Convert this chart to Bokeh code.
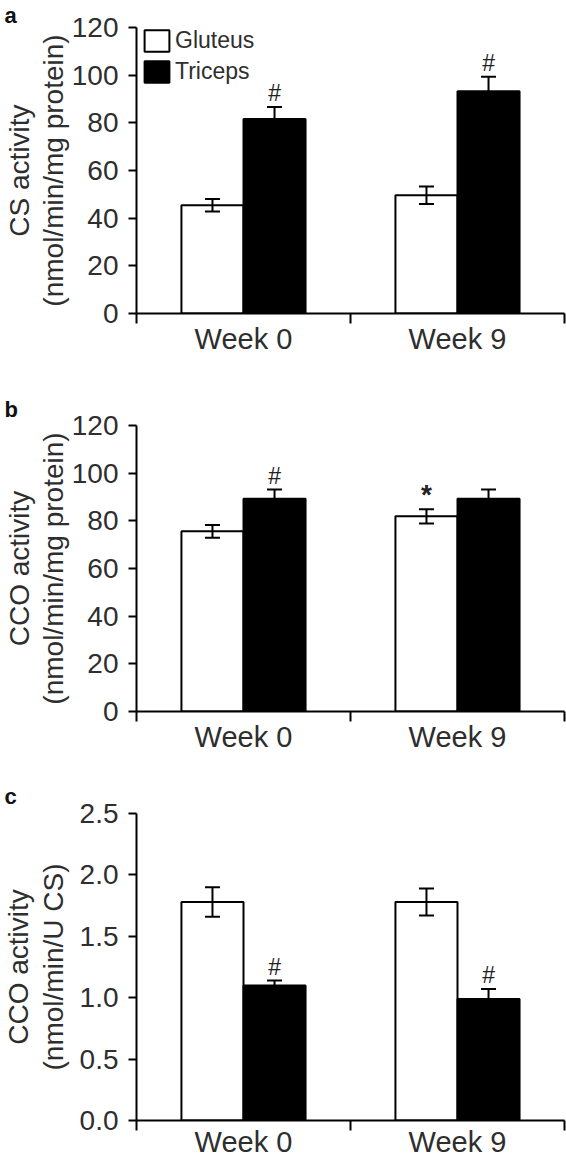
from bokeh.plotting import figure
from bokeh.models import (ColumnDataSource, Range1d, FixedTicker, Whisker, TeeHead,
                          Title, Legend, LegendItem, NumeralTickFormatter)
from bokeh.layouts import column
from bokeh.core.properties import value
from bokeh.embed import file_html
from bokeh.resources import INLINE

# ---------------- data ----------------
categories = ["Week 0", "Week 9"]
series_names = ["Gluteus", "Triceps"]

# panel a: CS activity (nmol/min/mg protein)
cs_gluteus = [45.4, 49.6]
cs_gluteus_err = [2.6, 3.7]
cs_triceps = [81.6, 93.3]
cs_triceps_err = [5.0, 6.0]
cs_gluteus_marks = ["", ""]
cs_triceps_marks = ["#", "#"]

# panel b: CCO activity (nmol/min/mg protein)
cco_gluteus = [75.6, 81.9]
cco_gluteus_err = [2.7, 3.0]
cco_triceps = [89.3, 89.3]
cco_triceps_err = [3.8, 3.8]
cco_gluteus_marks = ["", "*"]
cco_triceps_marks = ["#", ""]

# panel c: CCO activity (nmol/min/U CS)
ratio_gluteus = [1.78, 1.78]
ratio_gluteus_err = [0.12, 0.11]
ratio_triceps = [1.10, 0.99]
ratio_triceps_err = [0.04, 0.08]
ratio_gluteus_marks = ["", ""]
ratio_triceps_marks = ["#", "#"]

ticks_ab = [0, 20, 40, 60, 80, 100, 120]
ticks_c = [0.0, 0.5, 1.0, 1.5, 2.0, 2.5]

FONT = "Liberation Sans"
TXT = "#2e2e2e"
BAR_W = 0.29
OFF = 0.145

MARK_STYLE = {"#": ("23px", "normal", -14), "*": ("28px", "bold", -15), "": ("23px", "normal", 0)}


def make_panel(letter, height, top, frame_h, ticks, fmt, title1, title2,
               glut, glut_err, tri, tri_err, glut_marks, tri_marks,
               letter_standoff, label_standoff, legend=False, x_standoff=-1):
    bottom = height - top - frame_h
    p = figure(width=566, height=height, x_range=Range1d(0, len(categories)),
               y_range=Range1d(ticks[0], ticks[-1]),
               output_backend="svg", toolbar_location=None,
               min_border_left=136, min_border_right=2,
               min_border_top=top, min_border_bottom=bottom)
    p.outline_line_color = None
    p.grid.visible = False
    p.background_fill_color = "white"

    centers = [i + 0.5 for i in range(len(categories))]

    def src_for(vals, errs, marks, off):
        return ColumnDataSource(dict(
            x=[c + off for c in centers], top=vals,
            upper=[v + e for v, e in zip(vals, errs)],
            lower=[v - e for v, e in zip(vals, errs)],
            mark=marks,
            fsize=[MARK_STYLE[m][0] for m in marks],
            fstyle=[MARK_STYLE[m][1] for m in marks],
            yoff=[MARK_STYLE[m][2] for m in marks]))

    src_g = src_for(glut, glut_err, glut_marks, -OFF)
    src_t = src_for(tri, tri_err, tri_marks, OFF)

    rg = p.vbar(x="x", top="top", bottom=0, width=BAR_W, source=src_g,
                fill_color="white", line_color="black", line_width=2)
    rt = p.vbar(x="x", top="top", bottom=0, width=BAR_W, source=src_t,
                fill_color="black", line_color="black", line_width=2)

    for src in (src_g, src_t):
        w = Whisker(source=src, base="x", upper="upper", lower="lower",
                    line_color="black", line_width=2, level="overlay",
                    upper_head=TeeHead(size=15, line_width=2, line_color="black"),
                    lower_head=TeeHead(size=15, line_width=2, line_color="black"))
        p.add_layout(w)
        p.text(x="x", y="upper", text="mark", source=src,
               text_font=value(FONT), text_font_size="fsize", text_font_style="fstyle",
               text_color="#222222", text_align="center",
               text_baseline="middle", y_offset="yoff")

    # x axis
    xa = p.xaxis[0]
    xa.ticker = FixedTicker(ticks=centers, minor_ticks=list(range(len(categories) + 1)))
    xa.major_label_overrides = {c: n for c, n in zip(centers, categories)}
    xa.major_tick_line_color = None
    xa.major_tick_out = 0
    xa.major_tick_in = 0
    xa.minor_tick_out = 10
    xa.minor_tick_in = 0
    xa.minor_tick_line_width = 2
    xa.minor_tick_line_color = "black"
    xa.axis_line_width = 2
    xa.axis_line_color = "black"
    xa.major_label_text_font = FONT
    xa.major_label_text_font_size = "29px"
    xa.major_label_text_color = TXT
    xa.major_label_standoff = x_standoff

    # y axis with a two-line title
    ya = p.yaxis[0]
    ya.ticker = FixedTicker(ticks=ticks)
    ya.formatter = NumeralTickFormatter(format=fmt)
    ya.major_tick_out = 8
    ya.major_tick_in = 0
    ya.major_tick_line_width = 2
    ya.major_tick_line_color = "black"
    ya.minor_tick_line_color = None
    ya.axis_line_width = 2
    ya.axis_line_color = "black"
    ya.major_label_text_font = FONT
    ya.major_label_text_font_size = "28px"
    ya.major_label_text_color = TXT
    ya.major_label_standoff = 10
    ya.axis_label = title1 + "\n" + title2
    ya.axis_label_standoff = label_standoff
    ya.axis_label_text_font = FONT
    ya.axis_label_text_font_size = "28px"
    ya.axis_label_text_font_style = "normal"
    ya.axis_label_text_color = TXT
    ya.axis_label_text_line_height = 1.1
    ya.axis_label_text_align = "center"

    # panel letter
    p.title = Title(text=letter, align="left", offset=-132, standoff=letter_standoff,
                    text_font=FONT, text_font_size="22px", text_font_style="bold",
                    text_color="#111111")

    if legend:
        lg = Legend(items=[LegendItem(label=series_names[0], renderers=[rg]),
                           LegendItem(label=series_names[1], renderers=[rt])],
                    location=(5, frame_h - 60), orientation="vertical",
                    margin=0, padding=0, spacing=4,
                    glyph_width=31, glyph_height=27, label_standoff=3,
                    label_height=23,
                    label_text_font=FONT, label_text_font_size="23px",
                    label_text_color=TXT, border_line_color=None,
                    background_fill_alpha=0)
        p.add_layout(lg)
    return p


pa = make_panel("a", 390, 25, 288, ticks_ab, "0", "CS activity", "(nmol/min/mg protein)",
                cs_gluteus, cs_gluteus_err, cs_triceps, cs_triceps_err,
                cs_gluteus_marks, cs_triceps_marks, letter_standoff=0, label_standoff=0,
                legend=True)
pb = make_panel("b", 380, 33, 288, ticks_ab, "0", "CCO activity", "(nmol/min/mg protein)",
                cco_gluteus, cco_gluteus_err, cco_triceps, cco_triceps_err,
                cco_gluteus_marks, cco_triceps_marks, letter_standoff=8, label_standoff=0)
pc = make_panel("c", 390, 43, 309, ticks_c, "0.0", "CCO activity", "(nmol/min/U CS)",
                ratio_gluteus, ratio_gluteus_err, ratio_triceps, ratio_triceps_err,
                ratio_gluteus_marks, ratio_triceps_marks, letter_standoff=9,
                label_standoff=8, x_standoff=-5)

layout = column(pa, pb, pc, spacing=0)
open("out.html", "w").write(file_html(layout, INLINE))
